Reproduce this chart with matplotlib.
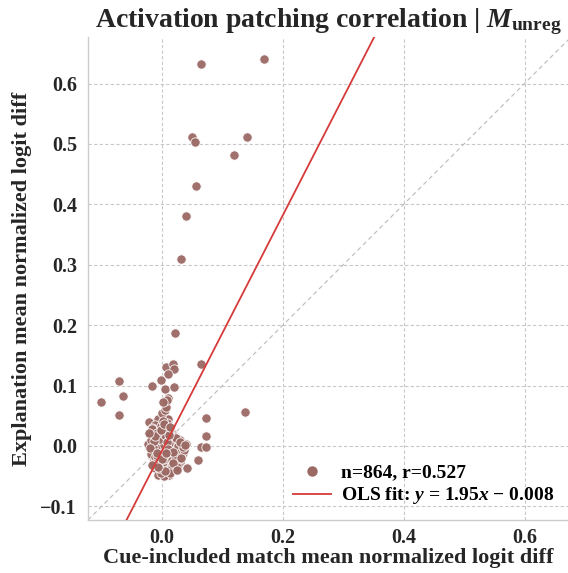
import matplotlib
matplotlib.use("Agg")
import matplotlib.pyplot as plt
from matplotlib.lines import Line2D

plt.rcParams['font.family'] = ['Liberation Serif', 'DejaVu Serif']
plt.rcParams['font.weight'] = 'bold'
plt.rcParams['axes.labelweight'] = 'bold'
plt.rcParams['axes.titleweight'] = 'bold'
plt.rcParams['mathtext.fontset'] = 'custom'
plt.rcParams['mathtext.rm'] = 'Liberation Serif:bold'
plt.rcParams['mathtext.it'] = 'Liberation Serif:bold:italic'
plt.rcParams['mathtext.bf'] = 'Liberation Serif:bold'

# ---- data ----
outlier_x = [0.169, 0.064, 0.050, 0.055, 0.140, 0.119, 0.056, 0.040, 0.031, 0.021,
             0.064, 0.137, -0.101, -0.072, -0.064, -0.072, -0.016, -0.002, 0.007,
             0.019, 0.020, 0.010, 0.005, 0.020, 0.010, 0.008, 0.002, 0.072, 0.072,
             0.065, 0.073, 0.059, 0.041]
outlier_y = [0.640, 0.632, 0.512, 0.503, 0.511, 0.481, 0.431, 0.381, 0.310, 0.187,
             0.136, 0.057, 0.073, 0.107, 0.083, 0.051, 0.100, 0.109, 0.130,
             0.135, 0.127, 0.119, 0.094, 0.098, 0.080, 0.076, 0.072, 0.046, 0.017,
             -0.002, -0.001, -0.023, -0.037]

cluster_x = [-0.021, -0.007, 0.006, 0.010, 0.000, 0.004, -0.020, -0.003, 0.010,
             -0.023, -0.012, 0.000, 0.016, 0.024, 0.033, -0.017, -0.009, 0.002,
             0.010, 0.019, 0.030, -0.014, -0.006, 0.019, 0.030, -0.012, 0.000,
             0.008, -0.006, 0.000, 0.005, 0.010, 0.003, -0.005, 0.015, 0.008,
             -0.003, 0.012, 0.002, 0.018, 0.020, 0.006, -0.010, -0.008, 0.014,
             0.025, 0.022, 0.004, 0.010, -0.002, 0.007, 0.013, 0.017, 0.000,
             -0.015, 0.009, 0.016, 0.028, -0.018, 0.011, 0.004, 0.020, 0.027,
             0.035, 0.030, -0.012, 0.002, 0.000, 0.005, 0.003, 0.012, -0.004,
             0.006, 0.014, 0.001, -0.010, 0.008, 0.016, 0.022, -0.001, 0.004,
             0.009, 0.013, -0.006, 0.018, 0.026, 0.011, 0.003, -0.016, 0.007,
             -0.019, -0.015, -0.011, -0.004, 0.001, 0.005, 0.012, 0.021, 0.026,
             0.031, 0.037, 0.040, -0.017, -0.013, -0.008, -0.002, 0.004, 0.009,
             0.015, 0.023, 0.028, 0.034, -0.020, -0.014, -0.009, -0.001, 0.006,
             0.011, 0.017, 0.024, 0.029, -0.011, -0.005, 0.002, 0.008, 0.014,
             0.021, -0.008, -0.002, 0.005, 0.012, 0.018, -0.016, 0.003, 0.010,
             0.025, 0.032, 0.038, -0.022, -0.007, 0.013, 0.019, 0.000, 0.007]
cluster_y = [0.039, 0.045, 0.047, 0.045, 0.035, 0.029, 0.019, 0.015, 0.014,
             0.004, 0.003, 0.007, 0.010, -0.003, -0.003, -0.007, -0.009, -0.012,
             -0.015, -0.018, -0.018, -0.023, -0.026, -0.028, -0.026, -0.037, -0.040,
             -0.043, -0.048, 0.000, -0.005, 0.002, 0.010, 0.005, -0.008, -0.020,
             -0.015, -0.028, -0.032, -0.004, 0.006, 0.020, 0.012, -0.003, 0.015,
             -0.010, -0.025, -0.038, -0.035, -0.022, 0.003, -0.015, -0.032, 0.025,
             0.025, 0.030, 0.022, 0.003, -0.013, -0.042, -0.046, -0.040, -0.030,
             -0.012, 0.010, 0.035, 0.040, 0.055, 0.060, -0.010, 0.008, -0.030,
             -0.012, -0.020, -0.025, 0.020, 0.017, 0.002, 0.015, -0.034, 0.001,
             -0.006, 0.027, -0.018, -0.036, -0.020, -0.048, -0.050, 0.030, 0.065,
             0.010, -0.001, -0.019, 0.012, -0.027, 0.018, 0.005, -0.008, 0.000,
             -0.010, -0.006, 0.004, 0.028, 0.008, -0.016, 0.033, -0.022, 0.038,
             -0.038, 0.014, -0.021, -0.001, -0.004, -0.030, 0.021, -0.044, -0.014,
             0.024, -0.024, -0.034, 0.006, 0.017, -0.036, 0.042, 0.007, -0.045,
             -0.016, -0.011, 0.026, -0.041, 0.019, -0.028, -0.031, 0.036, -0.005,
             -0.039, -0.020, 0.001, 0.022, -0.035, 0.031, -0.010, -0.022, -0.012]

n_points = 864
r_value = 0.527
slope = 1.95
intercept = -0.008
lim_lo, lim_hi_x, lim_hi_y = -0.1225, 0.672, 0.677
xticks = [0.0, 0.2, 0.4, 0.6]
yticks = [-0.1, 0.0, 0.1, 0.2, 0.3, 0.4, 0.5, 0.6]

point_color = '#9b6964'
line_color = '#d63a3a'
text_color = '#262626'

fig = plt.figure(figsize=(5.68, 5.73), dpi=100)
W, H = 568, 573
ax = fig.add_axes([88 / W, 1 - 520 / H, 480 / W, 483 / H])

ax.set_xlim(lim_lo, lim_hi_x)
ax.set_ylim(lim_lo, lim_hi_y)
ax.set_xticks(xticks)
ax.set_yticks(yticks)
ax.set_xticklabels([f"{t:.1f}" for t in xticks])
ax.set_yticklabels([f"{t:.1f}".replace('-', '\u2212') for t in yticks])

ax.grid(True, linestyle=(0, (3, 2)), color='#c8c8c8', linewidth=0.8)
ax.set_axisbelow(True)
for s in ['top', 'right']:
    ax.spines[s].set_visible(False)
for s in ['left', 'bottom']:
    ax.spines[s].set_color('#cccccc')
    ax.spines[s].set_linewidth(1.0)
ax.tick_params(length=0, labelsize=14.5, colors=text_color)
ax.tick_params(axis='x', pad=6)
ax.tick_params(axis='y', pad=8)
for lab in ax.get_xticklabels() + ax.get_yticklabels():
    lab.set_fontweight('bold')

# diagonal y = x
ax.plot([lim_lo, 0.7], [lim_lo, 0.7], linestyle=(0, (4, 3)), color='#bbbbbb', linewidth=0.8, zorder=1)

xs = cluster_x + outlier_x
ys = cluster_y + outlier_y
ax.scatter(xs, ys, s=45, color=point_color, edgecolor='white', linewidth=0.6, alpha=0.95, zorder=3)

lx = [lim_lo, 0.7]
ax.plot(lx, [slope * v + intercept for v in lx], color=line_color, linewidth=1.3, zorder=4)

handles = [Line2D([], [], marker='o', linestyle='none', markersize=8.5, markerfacecolor=point_color,
                  markeredgecolor='white'),
           Line2D([], [], color=line_color, linewidth=1.3)]
labels = [f"n={n_points}, r={r_value:.3f}",
          f"OLS fit: $y$ = {slope:.2f}$x$ \u2212 {abs(intercept):.3f}"]
leg = ax.legend(handles, labels, loc='lower right', frameon=False,
                handlelength=2.0, borderaxespad=0.3, labelspacing=0.2, handletextpad=0.5,
                prop={'weight': 'bold', 'size': 14})

ax.set_xlabel("Cue-included match mean normalized logit diff", fontsize=16, labelpad=0, color=text_color)
ax.set_ylabel("Explanation mean normalized logit diff", fontsize=16, labelpad=6, color=text_color)
ax.set_title("Activation patching correlation | $M_{\\mathrm{unreg}}$", fontsize=20, pad=5, color=text_color)

fig.savefig("out.png", dpi=100)
